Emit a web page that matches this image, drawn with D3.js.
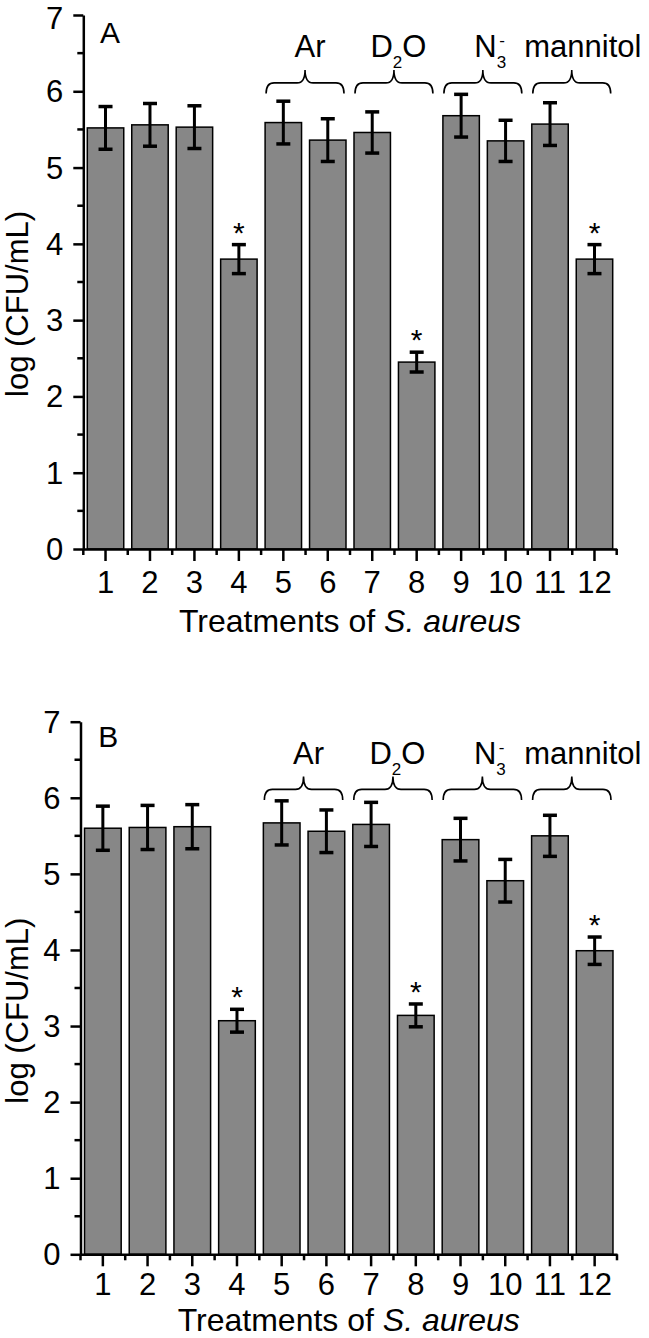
<!DOCTYPE html>
<html>
<head>
<meta charset="utf-8">
<script src="https://cdn.jsdelivr.net/npm/d3@7"></script>
<style>
  html, body { margin: 0; padding: 0; background: #fff; }
  svg { display: block; }
  text { font-family: "Liberation Sans", Arial, Helvetica, sans-serif; fill: #000; }
</style>
</head>
<body>
<script>
// ---------------- data ----------------
const categories = ["1","2","3","4","5","6","7","8","9","10","11","12"];
const valuesA = [5.52, 5.56, 5.53, 3.80, 5.59, 5.36, 5.46, 2.45, 5.68, 5.35, 5.57, 3.80];
const errorsA = [0.28, 0.28, 0.28, 0.19, 0.28, 0.28, 0.27, 0.13, 0.28, 0.27, 0.28, 0.19];
const valuesB = [5.60, 5.61, 5.62, 3.07, 5.67, 5.56, 5.65, 3.14, 5.45, 4.91, 5.50, 3.99];
const errorsB = [0.29, 0.29, 0.29, 0.15, 0.29, 0.28, 0.29, 0.15, 0.28, 0.28, 0.27, 0.18];
const significant = ["4", "8", "12"];
const groupLabels = ["Ar", "D2O", "N3-", "mannitol"];
const groupBars = [["5","6"], ["7","8"], ["9","10"], ["11","12"]];
const yTicks = [0, 1, 2, 3, 4, 5, 6, 7];
const yMinorTicks = [0.5, 1.5, 2.5, 3.5, 4.5, 5.5, 6.5];
const panelLetters = ["A", "B"];
const yTitle = "log (CFU/mL)";
const xTitleMain = "Treatments of ";
const xTitleItalic = "S. aureus";

// ---------------- layout ----------------
const W = 649, H = 1338;
const FONT = "'Liberation Sans', Arial, Helvetica, sans-serif";
const TICK_FS = 31;
const panels = [
  { letter: panelLetters[0], values: valuesA, errors: errorsA,
    left: 83.3, right: 616.7, top: 15, bottom: 549, letterX: 100, letterY: 43.3,
    xTickY: 44, xTitleY: 631.5 },
  { letter: panelLetters[1], values: valuesB, errors: errorsB,
    left: 80.5, right: 617, top: 721.7, bottom: 1254.3, letterX: 98.3, letterY: 747.3,
    xTickY: 40.5, xTitleY: 1331 }
];
const labelDx = [-11, -24, -9, -48];

const svg = d3.select("body").append("svg")
  .attr("width", W).attr("height", H).attr("viewBox", `0 0 ${W} ${H}`);
svg.append("rect").attr("width", W).attr("height", H).attr("fill", "#fff");

panels.forEach(p => {
  const g = svg.append("g");
  const x = d3.scaleBand().domain(categories).range([p.left, p.right])
    .paddingInner(0.18).paddingOuter(0.09);
  const y = d3.scaleLinear().domain([0, 7]).range([p.bottom, p.top]);
  const data = categories.map((c, i) => ({ c, v: p.values[i], e: p.errors[i] }));

  // bars
  g.append("g").selectAll("rect").data(data).join("rect")
    .attr("x", d => x(d.c)).attr("width", x.bandwidth())
    .attr("y", d => y(d.v)).attr("height", d => y(0) - y(d.v))
    .attr("fill", "#878787").attr("stroke", "#000").attr("stroke-width", 1.5);

  // error bars
  const eb = g.append("g").attr("stroke", "#000");
  const cx = d => x(d.c) + x.bandwidth() / 2;
  eb.selectAll("line.v").data(data).join("line").attr("class", "v")
    .attr("x1", cx).attr("x2", cx)
    .attr("y1", d => y(d.v + d.e)).attr("y2", d => y(d.v - d.e))
    .attr("stroke-width", 3);
  eb.selectAll("line.t").data(data).join("line").attr("class", "t")
    .attr("x1", d => cx(d) - 7).attr("x2", d => cx(d) + 7)
    .attr("y1", d => y(d.v + d.e)).attr("y2", d => y(d.v + d.e))
    .attr("stroke-width", 3.5);
  eb.selectAll("line.b").data(data).join("line").attr("class", "b")
    .attr("x1", d => cx(d) - 7).attr("x2", d => cx(d) + 7)
    .attr("y1", d => y(d.v - d.e)).attr("y2", d => y(d.v - d.e))
    .attr("stroke-width", 3.5);

  // asterisks
  g.append("g").selectAll("text").data(data.filter(d => significant.includes(d.c))).join("text")
    .attr("x", cx).attr("y", d => y(d.v + d.e) - 2)
    .attr("text-anchor", "middle").attr("font-size", 30).text("*");

  // y axis
  const yAxis = g.append("g").attr("transform", `translate(${p.left},0)`)
    .call(d3.axisLeft(y).tickValues(yTicks).tickFormat(d3.format("d"))
      .tickSize(10).tickPadding(10).tickSizeOuter(0));
  yAxis.attr("font-family", FONT).attr("font-size", TICK_FS);
  yAxis.select(".domain").attr("stroke-width", 2.5);
  yAxis.selectAll(".tick line").attr("stroke-width", 2.5);
  yAxis.selectAll(".tick text").attr("font-size", TICK_FS).attr("font-family", FONT)
    .attr("dy", d => (y(d) < 20 ? "0.42em" : "0.34em"));
  g.append("g").selectAll("line").data(yMinorTicks).join("line")
    .attr("x1", p.left - 6).attr("x2", p.left)
    .attr("y1", d => y(d)).attr("y2", d => y(d))
    .attr("stroke", "#000").attr("stroke-width", 2.5);

  // x axis
  const xAxis = g.append("g").attr("transform", `translate(0,${y(0)})`)
    .call(d3.axisBottom(x).tickSize(12).tickSizeOuter(0));
  xAxis.attr("font-family", FONT).attr("font-size", TICK_FS);
  xAxis.select(".domain").attr("stroke-width", 2.5);
  xAxis.selectAll(".tick line").attr("stroke-width", 2.5);
  xAxis.selectAll(".tick text").attr("font-size", TICK_FS).attr("y", p.xTickY).attr("dy", null)
    .attr("font-family", FONT);
  const bounds = d3.range(categories.length + 1).map(i => x.range()[0] + i * x.step());
  g.append("g").selectAll("line").data(bounds).join("line")
    .attr("x1", d => d).attr("x2", d => d)
    .attr("y1", y(0)).attr("y2", y(0) + 6)
    .attr("stroke", "#000").attr("stroke-width", 2.5);

  // axis titles
  const midX = (p.left + p.right) / 2;
  const xt = g.append("text").attr("x", midX).attr("y", p.xTitleY)
    .attr("text-anchor", "middle").attr("font-size", 32);
  xt.append("tspan").text(xTitleMain);
  xt.append("tspan").attr("font-style", "italic").text(xTitleItalic);

  g.append("text")
    .attr("transform", `translate(28,${p.top + 289}) rotate(-90)`)
    .attr("text-anchor", "middle").attr("font-size", 31).text(yTitle);

  // panel letter
  g.append("text").attr("x", p.letterX).attr("y", p.letterY)
    .attr("font-size", 30).text(p.letter);

  // braces and group labels
  groupBars.forEach((pair, i) => {
    const x0 = x(pair[0]) + 1;
    const x1 = x(pair[1]) + x.bandwidth() - 2;
    const xm = (x0 + x1) / 2;
    const yb = y(5.97), yh = y(6.11), yc = y(6.28);
    const r = 8;
    const path = `M${x0},${yb} Q${x0},${yh} ${x0 + r},${yh} L${xm - r},${yh} Q${xm},${yh} ${xm},${yc} ` +
      `Q${xm},${yh} ${xm + r},${yh} L${x1 - r},${yh} Q${x1},${yh} ${x1},${yb}`;
    g.append("path").attr("d", path).attr("fill", "none")
      .attr("stroke", "#000").attr("stroke-width", 1.6);

    const pairCenter = (x(pair[0]) + x(pair[1]) + x.bandwidth()) / 2;
    const ly = y(6.45);
    const t = g.append("text").attr("x", pairCenter + labelDx[i]).attr("y", ly)
      .attr("font-size", 31);
    const lab = groupLabels[i];
    if (lab === "D2O") {
      t.append("tspan").text("D");
      t.append("tspan").attr("font-size", 17).attr("dy", 11).text("2");
      t.append("tspan").attr("dy", -11).text("O");
    } else if (lab === "N3-") {
      t.append("tspan").text("N");
      t.append("tspan").attr("font-size", 17).attr("dy", 11).text("3");
      t.append("tspan").attr("font-size", 17).attr("dx", -7).attr("dy", -22).text("-");
    } else {
      t.text(lab);
    }
  });
});
</script>
</body>
</html>
